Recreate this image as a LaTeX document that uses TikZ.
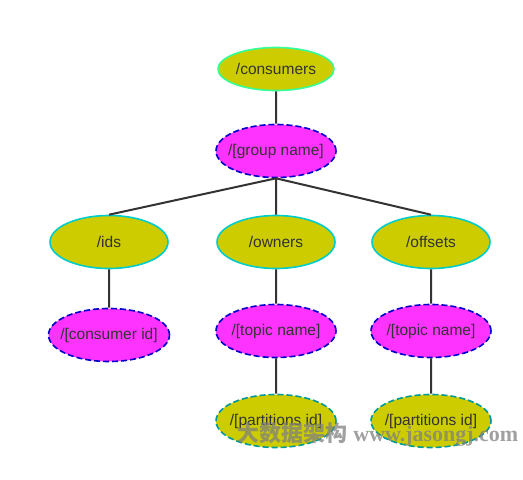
\documentclass[tikz,border=0pt]{standalone}
\usepackage{fontspec}
\setmainfont{Liberation Sans}
\newfontfamily\cjkfont{Noto Sans CJK SC}
\newfontfamily\wmfont{Liberation Serif}
\usetikzlibrary{shapes.geometric}
\definecolor{olive}{HTML}{CCCC00}
\definecolor{pinky}{HTML}{FF33FF}
\definecolor{greenline}{HTML}{33FF99}
\definecolor{cyanline}{HTML}{00CCCC}
\definecolor{blueline}{HTML}{0000CC}
\definecolor{tealline}{HTML}{009999}
\definecolor{txt}{HTML}{333333}
\begin{document}
\begin{tikzpicture}[x=1pt,y=-1pt]
      \useasboundingbox (0,0) rectangle (523,480);
      \tikzstyle{every node} = [ellipse, inner xsep = -15pt, inner ysep = 0pt, line width = 1.6pt,
        minimum width = 118pt, minimum height = 53pt, text = txt,
        font = \fontsize{15.5}{18}\selectfont]
      \tikzstyle{solidnode} = [draw = cyanline, fill = olive]
      \tikzstyle{dashnode} = [draw = blueline, fill = pinky, minimum width = 120pt, dash pattern = on 6pt off 3pt]
      \tikzstyle{dashleaf} = [draw = tealline, fill = olive, minimum width = 120pt, dash pattern = on 6pt off 3pt]
      \node[solidnode, draw = greenline, minimum width = 116pt, minimum height = 43pt](consumers) at (276,69) {/consumers};
      \node[dashnode](group) at (276,151) {/[group name]};
      \node[solidnode](ids) at (109,242) {/ids};
      \node[solidnode](owners) at (276,242) {/owners};
      \node[solidnode](offsets) at (431,242) {/offsets};
      \node[dashnode, minimum width = 121pt](cid) at (109,335) {/[consumer id]};
      \node[dashnode](topic1) at (276,331) {/[topic name]};
      \node[dashnode](topic2) at (431,331) {/[topic name]};
      \node[dashleaf](part1) at (276,421) {/[partitions id]};
      \node[dashleaf](part2) at (431,421) {/[partitions id]};

      \tikzstyle{every node} = []
      \path[draw = txt, line width = 2pt]
      (consumers) -- (group)
      (group.south) -- (ids.north)
      (group.south) -- (owners.north)
      (group.south) -- (offsets.north)
      (ids) -- (cid)
      (owners) -- (topic1)
      (topic1) -- (part1)
      (offsets) -- (topic2)
      (topic2) -- (part2);
      \node[anchor = base west, text = gray, opacity = 0.75, inner sep = 0pt](mark) at (237,441)
        {\fontsize{22}{25}\selectfont{\cjkfont\bfseries 大数据架构} \wmfont\bfseries www.jasongj.com};
    \end{tikzpicture}
\end{document}
